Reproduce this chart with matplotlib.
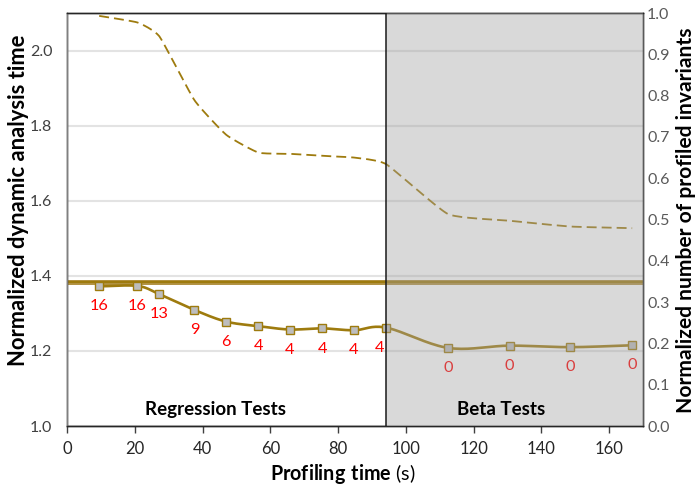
import matplotlib
matplotlib.use("Agg")
import matplotlib.pyplot as plt
import numpy as np

plt.rcParams['font.family'] = ['Lato', 'DejaVu Sans']
plt.rcParams['mathtext.fontset'] = 'custom'
plt.rcParams['mathtext.rm'] = 'Lato'
plt.rcParams['mathtext.bf'] = 'Lato:bold'

# profiling time (s) of each sample
prof_time = [9.5, 20.8, 27.3, 37.6, 47.0, 56.5, 65.8, 75.3, 84.7, 94.2,
             112.5, 130.6, 148.5, 166.8]
# normalized dynamic analysis time (left axis)
analysis_time = [1.372, 1.373, 1.351, 1.309, 1.278, 1.266, 1.257, 1.260,
                 1.255, 1.262, 1.208, 1.214, 1.210, 1.215]
# normalized number of profiled invariants (right axis)
invariants = [0.993, 0.977, 0.943, 0.789, 0.705, 0.662, 0.659, 0.654,
              0.650, 0.634, 0.513, 0.497, 0.483, 0.479]
# counts printed under each marker
counts = [16, 16, 13, 9, 6, 4, 4, 4, 4, 4, 0, 0, 0, 0]
baseline_time = 1.383
beta_start = 94.2

gold = '#9E7B0E'


def smooth(x, y, n=20, k=1.0):
    # hermite curve through the points, k scales the tangents
    x = np.asarray(x, float)
    y = np.asarray(y, float)
    t = np.linspace(0, 1, n)
    h00 = 2 * t**3 - 3 * t**2 + 1
    h10 = t**3 - 2 * t**2 + t
    h01 = -2 * t**3 + 3 * t**2
    h11 = t**3 - t**2
    res = []
    for p in (x, y):
        m = np.gradient(p) * k
        m[0] = (p[1] - p[0]) * k
        m[-1] = (p[-1] - p[-2]) * k
        segs = [h00 * p[i] + h10 * m[i] + h01 * p[i + 1] + h11 * m[i + 1]
                for i in range(len(p) - 1)]
        res.append(np.concatenate(segs))
    return res[0], res[1]


fig = plt.figure(figsize=(6.96, 4.91), dpi=100)
ax = fig.add_axes([67 / 696, 1 - 426 / 491, 576 / 696, 413 / 491])
ax2 = ax.twinx()

ax.set_xlim(0, 170)
ax.set_ylim(1.0, 2.1)
ax2.set_ylim(0, 1.0)

ax.set_yticks([1.0, 1.2, 1.4, 1.6, 1.8, 2.0])
ax.set_xticks(range(0, 161, 20))
ax2.set_yticks(np.round(np.arange(0, 1.01, 0.1), 1))
ax.yaxis.grid(True, color='#E3E3E3', lw=1.5)
ax.set_axisbelow(True)

ax.axhline(baseline_time, color='#B39446', lw=3.6, zorder=2)
ax.axhline(baseline_time, color=gold, lw=1.6, zorder=2)

sx, sy = smooth(prof_time, analysis_time)
ax.plot(sx, sy, color=gold, lw=1.9, zorder=3)
ax.plot(prof_time, analysis_time, ls='none', marker='s', ms=5.2,
        mfc='#BDBDBD', mec=gold, mew=1.0, zorder=4)

for i, (x, y, c) in enumerate(zip(prof_time, analysis_time, counts)):
    dx = -5 if i == 9 else 0
    ax.annotate(str(c), (x, y), xytext=(dx, -14.5), textcoords='offset points',
                ha='center', va='center', color='#FF0000', fontsize=11.8)

dx_, dy_ = smooth(prof_time, invariants, k=0.45)
ax2.plot(dx_, dy_, color=gold, lw=1.3, dashes=(5.5, 2.8), zorder=3)

# grey overlay for the beta tests region
ax2.axvspan(beta_start, 170, color='#A0A0A0', alpha=0.4, lw=0, zorder=5)
ax2.axvline(beta_start, color='#1A1A1A', lw=1.1, zorder=6)

ax2.text(43.8, 1.043, 'Regression Tests', transform=ax.transData,
         ha='center', va='center', fontsize=13.5, fontweight='bold', zorder=7)
ax2.text(128, 1.043, 'Beta Tests', transform=ax.transData,
         ha='center', va='center', fontsize=13.5, fontweight='bold', zorder=7)

ax.tick_params(axis='x', length=5, width=1, color='#404040',
               labelsize=12, labelcolor='#262626', pad=6)
ax.tick_params(axis='y', length=0, labelsize=11.5, labelcolor='#404040',
               pad=10.5)
ax2.tick_params(axis='y', length=0, labelsize=11.5, labelcolor='#595959',
                pad=3)

for a in (ax, ax2):
    for s in a.spines.values():
        s.set_color('#262626')
        s.set_linewidth(1.0)
ax2.spines['left'].set_color('#808080')
ax2.spines['right'].set_color('#595959')

ax.set_xlabel(r'$\mathbf{Profiling\ time}$ (s)', fontsize=14.2)
ax.xaxis.set_label_coords(0.479, -0.088)
ax.set_ylabel('Normalized dynamic analysis time', fontsize=15.8,
              fontweight='bold')
ax.yaxis.set_label_coords(-0.066, 0.547)
ax2.set_ylabel('Normalized number of profiled invariants', fontsize=15.1,
               fontweight='bold')
ax2.yaxis.set_label_coords(1.0573, 0.499)

fig.savefig('out.png', dpi=100)
